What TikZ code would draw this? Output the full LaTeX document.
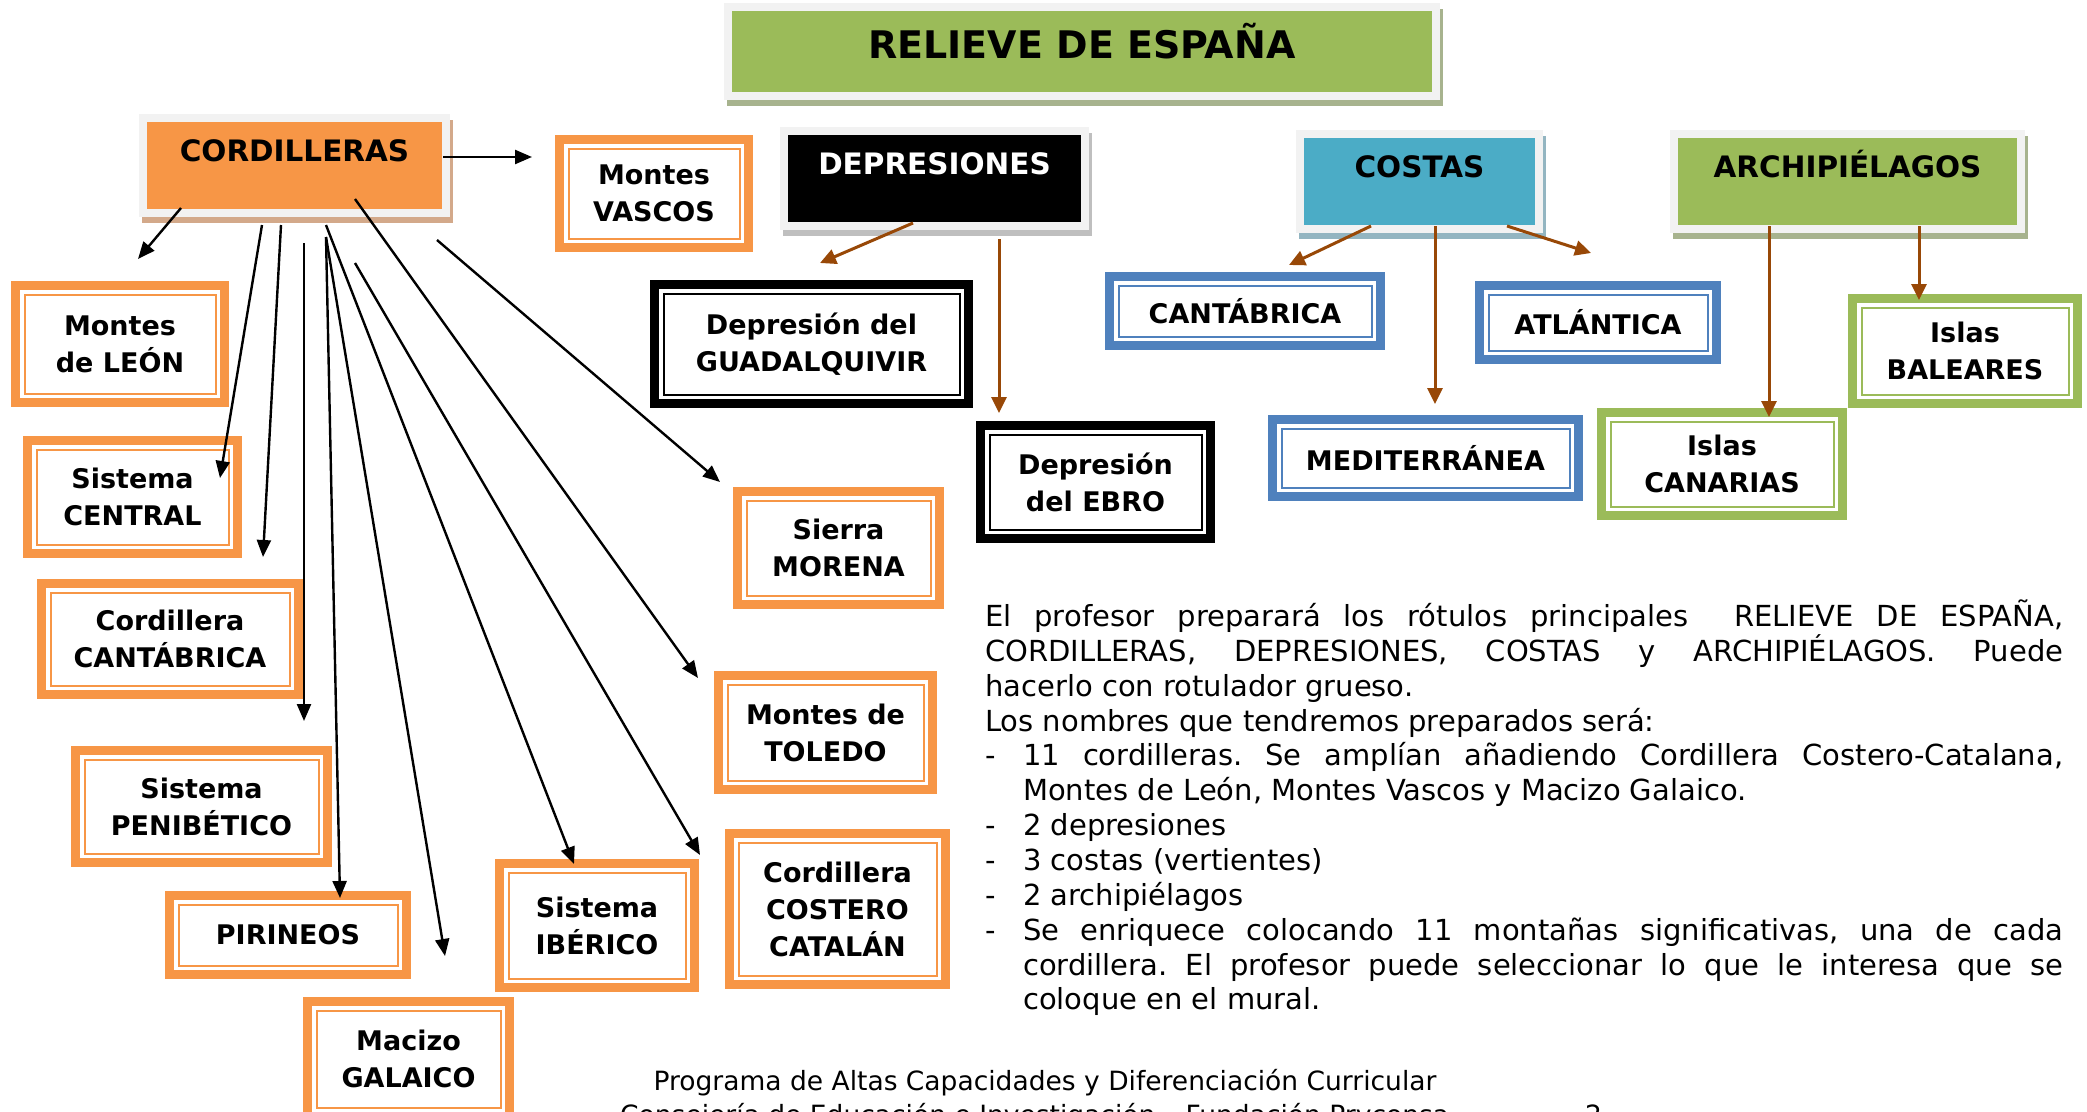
\documentclass[tikz,border=0pt]{standalone}
\usepackage{fontspec}
\setmainfont{DejaVu Sans}
\usetikzlibrary{arrows.meta}
\frenchspacing
\definecolor{hgreen}{HTML}{9BBB59}
\definecolor{horange}{HTML}{F79646}
\definecolor{hcyan}{HTML}{4BACC6}
\definecolor{bblue}{HTML}{4F81BD}
\definecolor{hframe}{HTML}{F2F2F2}
\definecolor{brownarr}{RGB}{152,72,7}
\definecolor{shgreen}{HTML}{A7B38E}
\definecolor{shorange}{HTML}{D3A98A}
\definecolor{shgray}{HTML}{BFBFBF}
\definecolor{shcyan}{HTML}{93B5C1}
\newcommand\boxfont{\fontsize{27}{37}\selectfont\bfseries}
\newcommand\headfont{\fontsize{29.5}{37}\selectfont\bfseries}
\newcommand\titlefont{\fontsize{38}{44}\selectfont\bfseries}
\newcommand\bodyfont{\fontsize{29}{35}\selectfont}
\newcommand\footfont{\fontsize{26.5}{32}\selectfont}
\tikzset{
  hdr/.style={fill=#1, draw=hframe, line width=8pt, inner sep=0pt, align=center},
  sub/.style={draw=#1, line width=2pt, fill=white, inner sep=0pt, align=center, font=\boxfont},
  band/.style={draw=#1, line width=9pt},
  arr/.style={line width=2.4pt, -{Triangle[length=17pt,width=14pt]}},
  barr/.style={draw=brownarr, fill=brownarr, line width=3pt, -{Triangle[length=16pt,width=15pt]}},
  body/.style={anchor=base west, inner sep=0pt, font=\bodyfont},
  foot/.style={inner sep=0pt, font=\footfont}
}
% name, x1, y1, x2, y2, colour, text
\newcommand\subb[7]{%
  \pgfmathsetmacro\sbW{#4-#2-25}\pgfmathsetmacro\sbH{#5-#3-25}%
  \pgfmathsetmacro\sbX{(#2+#4)/2}\pgfmathsetmacro\sbY{(#3+#5)/2}%
  \node[sub=#6, minimum width=\sbW pt, minimum height=\sbH pt] (#1) at (\sbX,\sbY) {#7};%
  \draw[band=#6] ([shift={(-8pt,-8pt)}]#1.south west) rectangle ([shift={(8pt,8pt)}]#1.north east);%
}
% name, x1, y1, x2, y2, fill, shadow, node options, text
\newcommand\hdr[9]{%
  \pgfmathsetmacro\sbW{#4-#2-8}\pgfmathsetmacro\sbH{#5-#3-8}%
  \pgfmathsetmacro\sbX{(#2+#4)/2}\pgfmathsetmacro\sbY{(#3+#5)/2}%
  \fill[#7] ({#2+3},{#3+6}) rectangle ({#4+3},{#5+6});%
  \node[hdr=#6, minimum width=\sbW pt, minimum height=\sbH pt, #8] (#1) at (\sbX,\sbY) {#9};%
}
\begin{document}
\begin{tikzpicture}[x=1pt,y=-1pt]
\useasboundingbox (0,0) rectangle (2087,1111);
\fill[white] (0,0) rectangle (2087,1111);

% headers
\hdr{title}{724}{3}{1440}{100}{hgreen}{shgreen}{font=\titlefont, text height=27.5pt, text depth=14pt}{RELIEVE DE ESPAÑA}
\hdr{cord}{139}{114}{450}{217}{horange}{shorange}{font=\headfont, text height=21.5pt, text depth=30.5pt}{CORDILLERAS}
\hdr{depr}{780}{127}{1089}{230}{black}{shgray}{font=\headfont, text=white, text height=21.5pt, text depth=30.5pt}{DEPRESIONES}
\hdr{cost}{1296}{130}{1543}{233}{hcyan}{shcyan}{font=\headfont, text height=21.5pt, text depth=30.5pt}{COSTAS}
\hdr{arch}{1670}{130}{2025}{233}{hgreen}{shgreen}{font=\headfont, text height=21.5pt, text depth=30.5pt}{ARCHIPIÉLAGOS}

% cordilleras
\subb{leon}{12}{282}{228}{406}{horange}{Montes\\de LEÓN}
\subb{central}{24}{437}{241}{557}{horange}{Sistema\\CENTRAL}
\subb{cantab}{38}{580}{302}{698}{horange}{Cordillera\\CANTÁBRICA}
\subb{penib}{72}{747}{331}{866}{horange}{Sistema\\PENIBÉTICO}
\subb{pirin}{166}{892}{410}{978}{horange}{PIRINEOS}
\subb{galaico}{304}{998}{513}{1120}{horange}{Macizo\\GALAICO}
\subb{iberico}{496}{860}{698}{991}{horange}{Sistema\\IBÉRICO}
\subb{costero}{726}{830}{949}{988}{horange}{Cordillera\\COSTERO\\CATALÁN}
\subb{toledo}{715}{672}{936}{793}{horange}{Montes de\\TOLEDO}
\subb{morena}{734}{488}{943}{608}{horange}{Sierra\\MORENA}
\subb{vascos}{556}{136}{752}{251}{horange}{Montes\\VASCOS}
% depresiones
\subb{guadal}{651}{281}{972}{407}{black}{Depresión del\\GUADALQUIVIR}
\subb{ebro}{977}{422}{1214}{542}{black}{Depresión\\del EBRO}
% costas
\subb{ccant}{1106}{273}{1384}{349}{bblue}{CANTÁBRICA}
\subb{atlan}{1476}{282}{1720}{363}{bblue}{ATLÁNTICA}
\subb{medit}{1269}{416}{1582}{500}{bblue}{MEDITERRÁNEA}
% archipielagos
\subb{canar}{1598}{409}{1846}{519}{hgreen}{Islas\\CANARIAS}
\subb{balea}{1849}{295}{2081}{407}{hgreen}{Islas\\BALEARES}

% connector end points
\coordinate (cord-s1) at (181,208);  \coordinate (leon-t) at (138,259);
\coordinate (cord-s2) at (262,225);  \coordinate (central-t) at (220,478);
\coordinate (cord-s3) at (281,225);  \coordinate (cantab-t) at (263,557);
\coordinate (cord-s4) at (304,243);  \coordinate (penib-t) at (304,721);
\coordinate (cord-s5) at (326,237);  \coordinate (pirin-t) at (340,898);
\coordinate (galaico-t) at (445,956);
\coordinate (cord-s7) at (326,225);  \coordinate (iberico-t) at (574,864);
\coordinate (cord-s8) at (355,263);  \coordinate (costero-t) at (700,855);
\coordinate (cord-s9) at (355,199);  \coordinate (toledo-t) at (698,678);
\coordinate (cord-s10) at (437,240); \coordinate (morena-t) at (720,482);
\coordinate (cord-s11) at (443,157); \coordinate (vascos-t) at (532,157);
\coordinate (depr-s1) at (913,223);  \coordinate (guadal-t) at (820,263);
\coordinate (depr-s2) at (999,239);  \coordinate (ebro-t) at (999,413);
\coordinate (cost-s1) at (1371,226); \coordinate (ccant-t) at (1289,265);
\coordinate (cost-s2) at (1435,226); \coordinate (medit-t) at (1435,404);
\coordinate (cost-s3) at (1507,226); \coordinate (atlan-t) at (1591,253);
\coordinate (arch-s1) at (1769,226); \coordinate (canar-t) at (1769,417);
\coordinate (arch-s2) at (1919,226); \coordinate (balea-t) at (1919,300);

\draw[arr] (cord-s1) -- (leon-t);
\draw[arr] (cord-s2) -- (central-t);
\draw[arr] (cord-s3) -- (cantab-t);
\draw[arr] (cord-s4) -- (penib-t);
\draw[arr] (cord-s5) -- (pirin-t);
\draw[arr] (cord-s5) -- (galaico-t);
\draw[arr] (cord-s7) -- (iberico-t);
\draw[arr] (cord-s8) -- (costero-t);
\draw[arr] (cord-s9) -- (toledo-t);
\draw[arr] (cord-s10) -- (morena-t);
\draw[arr] (cord-s11) -- (vascos-t);
\draw[barr] (depr-s1) -- (guadal-t);
\draw[barr] (depr-s2) -- (ebro-t);
\draw[barr] (cost-s1) -- (ccant-t);
\draw[barr] (cost-s2) -- (medit-t);
\draw[barr] (cost-s3) -- (atlan-t);
\draw[barr] (arch-s1) -- (canar-t);
\draw[barr] (arch-s2) -- (balea-t);

% body text
\node[body] (l1) at (985,626.5) {\makebox[1078pt][s]{El profesor preparará los rótulos principales\ \ RELIEVE DE ESPAÑA,}};
\node[body] (l2) at (985,661.35) {\makebox[1078pt][s]{CORDILLERAS, DEPRESIONES, COSTAS y ARCHIPIÉLAGOS. Puede}};
\node[body] (l3) at (985,696.2) {hacerlo con rotulador grueso.};
\node[body] (l4) at (985,731.05) {Los nombres que tendremos preparados será:};
\node[body] (l5) at (985,765.9) {\makebox[38pt][l]{-}\makebox[1040pt][s]{11 cordilleras. Se amplían añadiendo Cordillera Costero-Catalana,}};
\node[body] (l6) at (1023,800.75) {Montes de León, Montes Vascos y Macizo Galaico.};
\node[body] (l7) at (985,835.6) {\makebox[38pt][l]{-}2 depresiones};
\node[body] (l8) at (985,870.45) {\makebox[38pt][l]{-}3 costas (vertientes)};
\node[body] (l9) at (985,905.3) {\makebox[38pt][l]{-}2 archipiélagos};
\node[body] (l10) at (985,940.15) {\makebox[38pt][l]{-}\makebox[1040pt][s]{Se enriquece colocando 11 montañas significativas, una de cada}};
\node[body] (l11) at (1023,975) {\makebox[1040pt][s]{cordillera. El profesor puede seleccionar lo que le interesa que se}};
\node[body] (l12) at (1023,1009.85) {coloque en el mural.};

% footer
\node[foot, anchor=base] (f1) at (1045,1090) {Programa de Altas Capacidades y Diferenciación Curricular};
\node[foot, anchor=base west] (f2) at (620,1124) {Consejería de Educación e Investigación – Fundación Pryconsa};
\node[foot, anchor=base west] (f3) at (1585,1124) {2};
\end{tikzpicture}
\end{document}
